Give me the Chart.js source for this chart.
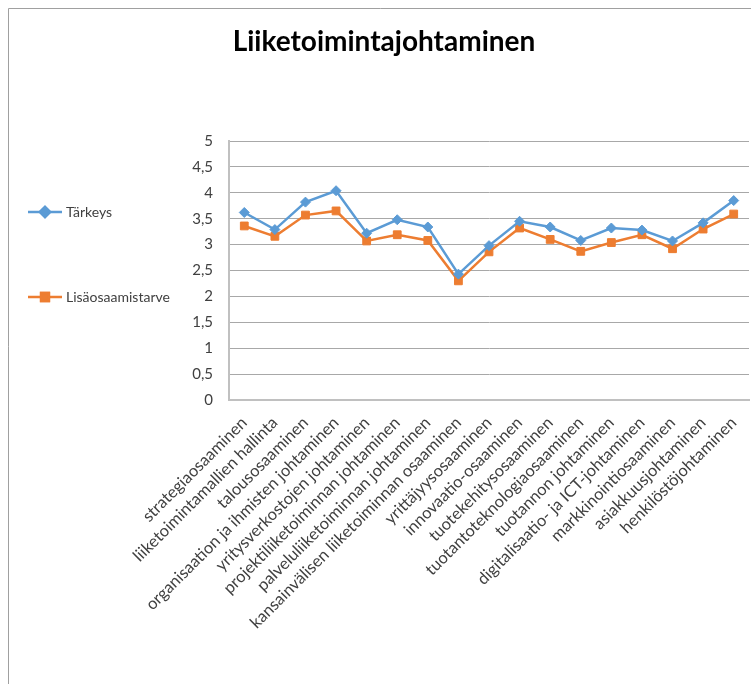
<!DOCTYPE html>
<html>
<head>
<meta charset="utf-8">
<script src="https://cdn.jsdelivr.net/npm/chart.js@4/dist/chart.umd.min.js"></script>
<style>
  html, body { margin: 0; padding: 0; background: #ffffff; }
  #wrap { width: 751px; height: 684px; position: relative; }
</style>
</head>
<body>
<div id="wrap"><canvas id="c" width="751" height="684"></canvas></div>
<script>
const chartTitle = 'Liiketoimintajohtaminen';

const categories = [
  'strategiaosaaminen',
  'liiketoimintamallien hallinta',
  'talousosaaminen',
  'organisaation ja ihmisten johtaminen',
  'yritysverkostojen johtaminen',
  'projektiliiketoiminnan johtaminen',
  'palveluliiketoiminnan johtaminen',
  'kansainvälisen liiketoiminnan osaaminen',
  'yrittäjyysosaaminen',
  'innovaatio-osaaminen',
  'tuotekehitysosaaminen',
  'tuotantoteknologiaosaaminen',
  'tuotannon johtaminen',
  'digitalisaatio- ja ICT-johtaminen',
  'markkinointiosaaminen',
  'asiakkuusjohtaminen',
  'henkilöstöjohtaminen'
];

const tarkeys = [3.62, 3.29, 3.82, 4.04, 3.22, 3.48, 3.34, 2.43, 2.98, 3.45, 3.34, 3.08, 3.32, 3.28, 3.07, 3.42, 3.85];
const lisaosaamistarve = [3.36, 3.16, 3.57, 3.65, 3.07, 3.19, 3.08, 2.30, 2.86, 3.32, 3.10, 2.87, 3.04, 3.19, 2.92, 3.30, 3.59];

const yTickLabels = ['0', '0,5', '1', '1,5', '2', '2,5', '3', '3,5', '4', '4,5', '5'];

const FONT = 'Lato, "Open Sans", sans-serif';
const TEXT_COLOR = '#404040';

// Frame around the whole figure, the title and the side legend
const decorations = {
  id: 'decorations',
  beforeDraw(chart) {
    const ctx = chart.ctx;
    ctx.save();
    ctx.strokeStyle = '#a0a0a0';
    ctx.lineWidth = 1;
    ctx.beginPath();
    ctx.moveTo(8.5, chart.height + 5);
    ctx.lineTo(8.5, 8.5);
    ctx.lineTo(chart.width + 5, 8.5);
    ctx.stroke();
    ctx.restore();
  },
  afterDraw(chart) {
    const ctx = chart.ctx;
    ctx.save();
    ctx.fillStyle = '#000000';
    ctx.font = 'bold 28px ' + FONT;
    ctx.textAlign = 'center';
    ctx.textBaseline = 'alphabetic';
    ctx.fillText(chartTitle, 384, 51);

    const rows = [212, 297];
    chart.data.datasets.forEach((ds, i) => {
      const y = rows[i];
      ctx.strokeStyle = ds.borderColor;
      ctx.lineWidth = 2.5;
      ctx.beginPath();
      ctx.moveTo(28, y);
      ctx.lineTo(62, y);
      ctx.stroke();
      Chart.helpers.drawPoint(ctx, {
        pointStyle: ds.pointStyle,
        radius: ds.pointRadius,
        rotation: 0,
        borderWidth: 1
      }, 45, y);
      ctx.fillStyle = ds.pointBackgroundColor;
      ctx.strokeStyle = ds.pointBorderColor;
      ctx.fill();
      ctx.stroke();
      ctx.fillStyle = TEXT_COLOR;
      ctx.font = '14px ' + FONT;
      ctx.textAlign = 'left';
      ctx.textBaseline = 'middle';
      ctx.fillText(ds.label, 66, y);
    });
    ctx.restore();
  }
};

new Chart(document.getElementById('c'), {
  type: 'line',
  data: {
    labels: categories,
    datasets: [
      {
        label: 'Tärkeys',
        data: tarkeys,
        borderColor: '#5b9bd5',
        backgroundColor: '#5b9bd5',
        pointBackgroundColor: '#5b9bd5',
        pointBorderColor: '#5b9bd5',
        pointStyle: 'rectRot',
        pointRadius: 5,
        pointBorderWidth: 1,
        borderWidth: 2.5,
        tension: 0
      },
      {
        label: 'Lisäosaamistarve',
        data: lisaosaamistarve,
        borderColor: '#ed7d31',
        backgroundColor: '#ed7d31',
        pointBackgroundColor: '#ed7d31',
        pointBorderColor: '#ed7d31',
        pointStyle: 'rect',
        pointRadius: 5.5,
        pointBorderWidth: 1,
        borderWidth: 2.5,
        tension: 0
      }
    ]
  },
  options: {
    responsive: false,
    animation: false,
    devicePixelRatio: 1,
    layout: { autoPadding: false, padding: { top: 141, right: 2, left: 0, bottom: 0 } },
    plugins: {
      legend: { display: false },
      title: { display: false },
      tooltip: { enabled: false }
    },
    scales: {
      x: {
        offset: true,
        grid: { display: false, drawTicks: false },
        border: { display: true, color: '#c0c0c0', width: 2 },
        ticks: {
          autoSkip: false,
          maxRotation: 45,
          minRotation: 45,
          padding: 13,
          color: TEXT_COLOR,
          font: { family: FONT, size: 16.5 }
        },
        afterFit(scale) {
          scale.height = 284;
          scale.paddingRight = 0;
        }
      },
      y: {
        min: 0,
        max: 5,
        grid: { color: '#a8a8a8', lineWidth: 1, drawTicks: false },
        border: { display: true, color: '#c0c0c0', width: 2 },
        ticks: {
          stepSize: 0.5,
          padding: 16,
          color: TEXT_COLOR,
          font: { family: FONT, size: 15 },
          callback: (value, index) => yTickLabels[index]
        },
        afterFit(scale) { scale.width = 229; }
      }
    }
  },
  plugins: [decorations]
});
</script>
</body>
</html>
